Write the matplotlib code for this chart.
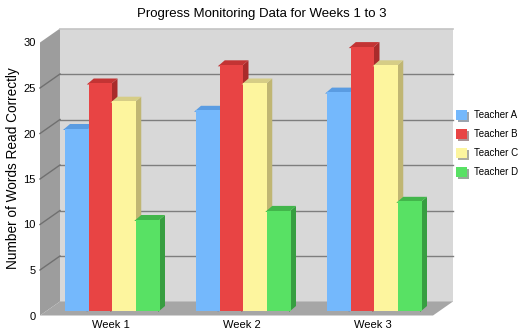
import matplotlib
matplotlib.use("Agg")
import matplotlib.pyplot as plt
from matplotlib.patches import Polygon
from matplotlib.transforms import ScaledTranslation
import matplotlib.patheffects as pe

plt.rcParams['font.family'] = ['Liberation Sans', 'DejaVu Sans']

# ---- data ----
weeks = ["Week 1", "Week 2", "Week 3"]
teachers = ["Teacher A", "Teacher B", "Teacher C", "Teacher D"]
teacher_a = [20, 22, 24]
teacher_b = [25, 27, 29]
teacher_c = [23, 25, 27]
teacher_d = [10, 11, 12]
series = [teacher_a, teacher_b, teacher_c, teacher_d]
yticks = [0, 5, 10, 15, 20, 25, 30]
title = "Progress Monitoring Data for Weeks 1 to 3"
ylabel = "Number of Words Read Correctly"

# ---- style ----
front_cols = ["#74b8fc", "#e84444", "#fdf59e", "#58e164"]
top_cols = ["#5a9ce2", "#c33434", "#d6cd86", "#42b64b"]
side_cols = ["#4a86cc", "#a92b2b", "#c0b673", "#379e41"]

W, H, DPI = 527, 332, 100
fig = plt.figure(figsize=(W / DPI, H / DPI), dpi=DPI)
fig.patch.set_facecolor("white")

# front plane of the 3D box (pixels)
ax_left, ax_w = 40, 393
ax_bottom, ax_h = 16.5, 273
ax = fig.add_axes([ax_left / W, ax_bottom / H, ax_w / W, ax_h / H])
ax.set_xlim(-0.5, 2.5)
ax.set_ylim(0, 30)
ax.patch.set_visible(False)
for s in ax.spines.values():
    s.set_visible(False)

pxx = ax_w / 3.0      # pixels per x unit
pxy = ax_h / 30.0     # pixels per y unit

def P(x, v, ox=0.0, oy=0.0):
    return (x + ox / pxx, v + oy / pxy)

# plane offsets in pixels (relative to front plane)
BAR = (5, 3.5)
BACK = (20, 14)
DEPTH = (7, 6)

x0, x1 = -0.5, 2.5
# back wall
ax.add_patch(Polygon([P(x0, 0, *BACK), P(x1, 0, *BACK), P(x1, 30, *BACK), P(x0, 30, *BACK)],
                     closed=True, facecolor="#d8d8d8", edgecolor="none", clip_on=False, zorder=1))
# top edge of back wall
ax.plot([P(x0, 30, *BACK)[0], P(x1, 30, *BACK)[0]], [P(x0, 30, *BACK)[1]] * 2,
        color="#c4c4c4", lw=1.2, clip_on=False, zorder=1.5)
# left wall
ax.add_patch(Polygon([P(x0, 0), P(x0, 0, *BACK), P(x0, 30, *BACK), P(x0, 30)],
                     closed=True, facecolor="#9d9d9d", edgecolor="none", clip_on=False, zorder=1))
# floor
ax.add_patch(Polygon([P(x0, 0), P(x1, 0), P(x1, 0, *BACK), P(x0, 0, *BACK)],
                     closed=True, facecolor="#a6a6a6", edgecolor="none", clip_on=False, zorder=1))
# gridlines
for v in yticks[1:-1]:
    a = P(x0, v, *BACK); b = P(x1, v, *BACK)
    ax.plot([a[0], b[0]], [a[1], b[1]], color="#7e7e7e", lw=1.0, clip_on=False, zorder=2)
    c = P(x0, v)
    ax.plot([c[0], a[0]], [c[1], a[1]], color="#707070", lw=1.0, clip_on=False, zorder=2)

# bars
bw = 23.75 / pxx
offs = [-1.5, -0.5, 0.5, 1.5]
bar_trans = ax.transData + ScaledTranslation(BAR[0] / 72, BAR[1] / 72, fig.dpi_scale_trans)
handles = []
for i, (vals, off) in enumerate(zip(series, offs)):
    for j, v in enumerate(vals):
        xl = j + off * bw - bw / 2
        xr = xl + bw
        side = [P(xr, 0, *BAR), P(xr, 0, BAR[0] + DEPTH[0], BAR[1] + DEPTH[1]),
                P(xr, v, BAR[0] + DEPTH[0], BAR[1] + DEPTH[1]), P(xr, v, *BAR)]
        ax.add_patch(Polygon(side, closed=True, facecolor=side_cols[i], edgecolor="none",
                             clip_on=False, zorder=3 + i))
        top = [P(xl, v, *BAR), P(xr, v, *BAR), P(xr, v, BAR[0] + DEPTH[0], BAR[1] + DEPTH[1]),
               P(xl, v, BAR[0] + DEPTH[0], BAR[1] + DEPTH[1])]
        ax.add_patch(Polygon(top, closed=True, facecolor=top_cols[i], edgecolor="none",
                             clip_on=False, zorder=3 + i))
    bc = ax.bar([j + off * bw for j in range(len(vals))], vals, width=bw,
                color=front_cols[i], edgecolor="none", transform=bar_trans,
                clip_on=False, zorder=3.5 + i, label=teachers[i])
    handles.append(bc)

# ticks
ax.set_yticks(yticks)
ax.set_yticklabels([str(t) for t in yticks], fontsize=8)
ax.tick_params(axis="y", length=0, pad=3)
ax.set_xticks([j + BAR[0] / pxx for j in range(len(weeks))])
ax.set_xticklabels(weeks, fontsize=8)
ax.tick_params(axis="x", length=0, pad=3.5)

fig.text(0.497, 1 - 14 / H, title, ha="center", va="center", fontsize=9.5)
fig.text(13 / W, 1 - 168 / H, ylabel, ha="center", va="center", rotation=90, fontsize=9.8)

leg = ax.legend(handles=handles, loc="upper left", bbox_to_anchor=(456 / W, 1 - 110 / H),
                bbox_transform=fig.transFigure, frameon=False, fontsize=7,
                handlelength=1.15, handleheight=1.25, handletextpad=0.75,
                labelspacing=0.88, borderpad=0, borderaxespad=0)
for p in leg.get_patches():
    p.set_path_effects([pe.SimplePatchShadow(offset=(1.5, -1.5), alpha=0.45), pe.Normal()])

fig.savefig("out.png", dpi=DPI)
